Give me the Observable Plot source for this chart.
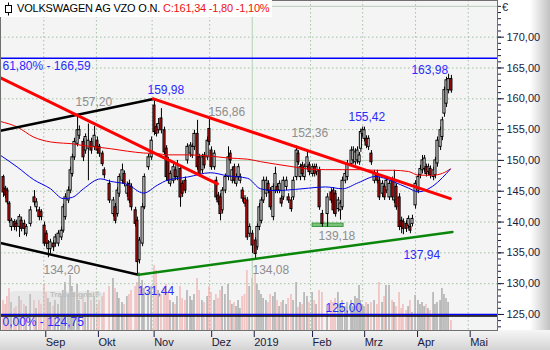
<!DOCTYPE html>
<html><head><meta charset="utf-8">
<script src="https://cdn.jsdelivr.net/npm/d3@7"></script>
<script src="https://cdn.jsdelivr.net/npm/@observablehq/plot@0.6"></script>
<style>
html,body{margin:0;padding:0;background:#fff;}
#chart{position:relative;width:550px;height:350px;overflow:hidden;font-family:"Liberation Sans",Arial,sans-serif;}
.layer{position:absolute;left:0;top:0;}
</style></head><body>
<div id="chart">
  <div style="position:absolute;left:0;top:0;width:497px;height:330px;background:#f4f4f4"></div>
  <div style="position:absolute;left:497px;top:0;width:53px;height:330px;background:linear-gradient(to right,#ffffff 0%,#ffffff 62%,#c2c2c2 100%)"></div>
  <div style="position:absolute;left:0;top:330px;width:550px;height:20px;background:linear-gradient(#f6f6f6,#d4d4d4)"></div>
  <div id="vol" class="layer"></div>
  <div id="wm" style="position:absolute;left:8px;top:291px;width:96px;height:27px;border-radius:7px;background:#d0d0d0;opacity:0.35"></div>
  <div style="position:absolute;left:50px;top:290px;font-size:8px;color:#bdbdbd;font-weight:bold">Tradesignal®</div>
  <div id="price" class="layer"></div>
  <div style="position:absolute;left:0;top:0;width:272px;height:17px;background:#fff"></div>
  <svg style="position:absolute;left:4px;top:2px" width="10" height="14"><line x1="4.5" y1="0.5" x2="4.5" y2="13.5" stroke="#000"/><rect x="1.5" y="3.5" width="6" height="7" fill="#fff" stroke="#000"/></svg>
  <div style="position:absolute;left:17px;top:2px;font-size:11px;letter-spacing:-0.2px;color:#000;white-space:nowrap">VOLKSWAGEN AG VZO O.N. <span style="color:#ee1111">C:161,34 -1,80 -1,10%</span></div>
  <div style="position:absolute;left:502px;top:1px;font-size:11px;color:#1a1a40">€</div>
</div>
<script>
// ---- candle data (trading-session position, OHLC in EUR) ----
const session = [0.4,1.2,1.9,2.7,3.5,4.7,5.4,6.6,7.4,8.5,
 9.3,10.9,12.4,13.2,14.3,15.1,16.3,17.1,17.8,18.6,
 19.8,20.5,21.7,22.9,23.6,24.4,25.6,26.4,27.1,27.9,
 29.1,29.8,31.4,32.2,33.3,34.5,35.7,36.8,37.6,38.8,
 39.5,41.5,43.0,43.8,44.6,45.3,46.5,47.3,48.4,49.2,
 50.0,51.6,52.3,53.1,54.3,55.0,56.6,57.8,58.9,59.7,
 60.5,61.6,62.8,63.6,64.3,65.1,66.3,67.1,67.8,69.0,
 69.8,70.9,71.7,72.9,73.6,74.4,75.6,76.4,77.5,78.3,
 79.5,80.2,81.0,82.2,82.9,83.7,84.5,85.3,86.4,87.6,
 88.4,89.1,89.9,90.7,91.5,92.2,93.1,94.0,94.9,95.8,
 96.9,98.1,98.8,99.6,100.4,101.2,102.3,103.1,103.9,105.0,
 105.8,106.6,107.4,108.2,108.9,110.1,110.9,112.0,112.8,114.0,
 114.7,115.5,116.3,117.1,118.2,119.0,120.2,121.0,121.7,122.9,
 124.0,126.0,127.5,128.3,129.1,130.2,131.0,131.8,132.9,133.7,
 135.3,136.0,136.8,137.6,138.4,138.9,139.6,140.3,141.1,141.9,
 143.0,144.2,145.3,146.1,147.3,148.1,148.8,150.0,151.2,151.9,
 152.7,153.9,154.7,155.4,156.6,157.4,158.1,158.9,160.1,161.2,
 162.0,162.8,163.6,164.3,165.1,165.9,167.1,167.8,168.6,169.8,
 170.5,171.3,172.1,172.9,174.0];
const open = [147.3,145.4,145.1,143.0,139.2,140.0,139.7,139.2,140.2,139.7,
 138.1,139.7,144.0,142.4,141.9,141.6,139.4,138.1,135.6,135.6,
 136.5,136.5,136.5,137.5,138.6,140.8,143.5,145.1,147.8,150.5,
 152.7,154.0,153.0,151.6,151.9,153.0,152.2,153.2,152.2,151.1,
 148.4,146.2,141.3,142.4,141.3,144.6,146.7,147.8,144.6,146.2,
 145.7,141.9,140.2,133.8,136.5,142.4,148.9,150.5,158.9,155.4,
 154.9,156.8,154.9,151.9,150.0,146.2,146.7,148.4,147.3,148.6,
 146.2,146.7,150.0,151.1,150.8,152.2,154.3,150.5,148.4,150.8,
 150.5,155.1,151.6,148.9,146.7,144.3,144.0,141.9,145.1,147.3,
 151.1,146.7,148.9,146.2,147.3,146.7,145.1,143.8,143.5,138.1,
 138.1,137.0,135.9,139.2,140.2,143.5,144.6,146.2,145.1,140.8,
 145.1,145.7,145.1,143.8,144.0,145.7,144.0,143.5,144.0,147.3,
 151.1,147.3,149.2,147.3,148.9,149.2,147.8,148.9,148.1,148.4,
 141.3,141.3,144.8,145.1,144.6,142.1,141.9,142.4,146.7,147.3,
 149.4,150.0,149.7,150.0,149.7,151.9,154.3,153.5,153.5,152.2,
 151.1,146.7,147.8,146.7,144.6,145.7,145.1,144.0,146.7,143.5,
 145.7,144.0,140.2,140.0,139.7,139.4,139.2,139.7,142.7,145.1,
 147.6,148.4,148.6,148.9,148.1,148.6,147.3,147.6,149.5,152.2,
 153.8,157.6,159.2,161.4,163.2];
const high = [147.6,145.8,145.5,143.3,140.6,140.4,140.3,141.2,140.8,140.3,
 139.6,142.5,145.1,143.8,142.4,142.0,140.0,138.6,137.0,137.2,
 137.0,138.0,138.6,139.2,142.9,144.6,145.7,148.9,151.0,153.6,
 157.2,155.6,153.5,154.3,155.9,153.6,155.5,153.8,152.6,151.5,
 148.8,146.8,144.0,143.0,145.6,147.8,149.4,148.3,146.5,146.8,
 146.2,142.4,140.8,137.5,143.0,147.8,151.0,153.8,159.98,155.9,
 156.8,158.4,155.4,152.4,150.5,148.3,149.4,148.9,150.0,149.1,
 146.7,147.3,152.7,152.9,152.7,154.9,156.5,151.0,151.0,151.3,
 153.8,156.86,152.2,151.6,147.3,144.8,144.6,145.6,147.8,152.2,
 151.6,148.9,149.4,147.8,149.4,147.8,145.6,144.3,144.0,139.7,
 138.6,137.5,139.7,143.0,144.0,147.3,147.3,146.7,145.6,146.2,
 148.9,146.2,146.7,144.3,147.3,147.3,144.6,144.0,147.3,152.36,
 151.6,149.4,149.7,149.4,151.6,149.7,149.4,149.4,149.4,148.9,
 141.9,144.6,145.4,145.6,145.1,144.0,143.5,147.3,148.4,150.0,
 152.2,152.2,151.9,152.2,151.3,155.1,155.42,155.4,154.0,154.0,
 151.6,148.4,148.4,147.3,146.7,146.2,147.3,146.7,147.3,148.4,
 146.2,144.6,140.8,140.5,140.2,141.0,139.7,141.1,146.7,147.8,
 149.2,150.8,150.8,149.4,149.4,149.1,148.9,150.5,153.8,155.4,
 157.0,161.9,163.5,163.98,163.8];
const low = [144.0,143.8,142.8,139.8,138.5,138.6,138.4,137.5,138.4,137.8,
 137.6,139.2,142.6,141.6,140.2,140.2,136.0,135.8,134.2,134.8,
 135.2,135.9,136.0,137.0,138.2,140.3,143.0,144.6,147.3,150.0,
 152.2,153.4,149.8,151.0,146.7,151.0,151.6,151.0,150.5,149.0,
 147.0,143.0,140.8,139.7,140.8,144.0,146.2,145.7,144.0,143.0,
 141.8,139.2,131.44,133.2,136.0,142.0,148.4,150.0,154.0,153.8,
 154.3,154.3,150.8,146.7,146.2,145.7,146.2,146.7,146.7,142.4,
 144.0,144.6,149.4,150.5,150.3,151.6,148.4,147.3,147.8,148.6,
 150.0,152.4,148.4,148.4,143.5,142.7,140.2,141.3,144.6,146.7,
 149.4,146.2,146.2,145.7,146.7,146.2,143.2,142.4,137.0,137.5,
 134.9,134.08,135.4,138.6,139.7,143.0,144.0,144.6,141.9,140.2,
 144.6,144.6,144.6,142.4,143.5,145.1,143.0,141.6,143.5,146.7,
 149.2,146.7,147.3,146.7,148.4,147.5,147.3,147.3,147.5,141.9,
 139.18,139.18,143.0,141.3,140.8,141.6,140.3,141.9,146.2,146.7,
 149.0,149.4,149.2,149.4,149.2,151.3,153.8,153.0,151.9,151.6,
 149.2,146.2,146.2,143.5,144.0,143.5,144.6,143.5,143.5,143.0,
 141.9,138.6,138.1,137.94,138.3,138.9,138.1,139.2,142.1,144.6,
 147.0,147.8,148.1,147.3,147.5,147.0,146.7,147.0,148.9,151.6,
 153.2,157.0,158.6,160.8,160.9];
const close = [144.8,144.3,143.2,140.2,140.2,139.2,139.2,140.8,138.9,138.9,
 139.2,141.9,143.2,143.2,140.8,140.8,136.5,136.5,136.5,136.7,
 135.9,137.5,138.1,138.6,142.4,144.0,145.1,148.4,150.5,153.0,
 154.9,154.9,150.5,153.8,153.2,151.6,154.0,151.6,151.1,149.4,
 147.6,143.5,143.5,140.2,145.1,147.3,148.4,146.2,145.9,143.5,
 142.4,139.7,133.5,137.0,142.4,147.3,150.5,153.2,154.6,154.3,
 155.9,154.9,151.3,147.3,146.7,147.8,148.9,147.3,149.4,144.0,
 144.6,145.1,152.2,152.4,152.2,154.3,148.9,147.8,150.5,149.2,
 153.2,153.0,148.9,151.1,144.0,143.2,141.3,145.1,147.3,150.5,
 150.0,148.4,146.7,147.3,148.9,147.3,143.8,143.0,137.5,139.2,
 136.2,134.8,139.2,142.4,143.5,146.7,146.7,145.1,142.4,145.7,
 147.8,145.1,146.2,143.0,146.7,146.7,143.5,142.1,146.7,151.6,
 149.7,148.9,147.8,148.9,150.5,148.1,148.9,147.8,148.9,142.4,
 139.7,144.0,143.5,141.9,141.3,143.5,143.0,146.7,147.8,149.4,
 151.6,151.6,151.3,151.6,150.8,154.6,154.9,154.9,152.4,153.5,
 149.7,147.8,146.7,144.0,146.2,144.0,146.7,146.2,144.0,146.7,
 142.4,139.2,139.2,138.9,138.9,140.5,138.6,140.5,146.2,147.3,
 148.6,150.0,150.3,147.8,148.9,147.6,148.4,150.0,153.2,154.9,
 156.5,161.4,163.0,163.2,161.34];
// volume in lots of 50k shares (estimated bar heights)
const volumeLots = [30,26,34,42,28,22,24,34,30,26,
 24,36,30,22,30,26,46,38,32,28,
 24,30,26,34,40,48,36,55,44,38,
 46,30,36,28,40,30,34,26,30,34,
 38,44,52,42,38,32,28,26,34,36,
 40,44,48,58,50,42,38,44,65,60,
 40,36,42,46,38,30,28,26,34,44,
 32,30,40,34,30,36,52,40,30,28,
 34,44,38,30,36,32,40,44,36,46,
 30,26,28,24,30,22,34,36,60,44,
 52,57,46,40,36,32,30,28,36,34,
 38,30,24,28,30,26,32,36,30,48,
 23,28,26,38,34,28,38,30,26,40,
 38,25,30,28,32,38,26,30,24,28,
 30,24,34,32,45,30,26,24,28,26,
 28,30,26,48,28,34,45,45,30,28,
 24,38,22,26,20,24,30,18,35,30,
 26,28,24,26,22,20,38,26,28,30,
 42,36,32,28,10];

// moving averages
const maSession = [-0.7,5.8,12.0,18.6,23.6,27.1,31.4,38.0,41.9,48.4,54.7,60.1,64.0,71.7,80.6,87.2,95.0,100.0,105.8,113.6,118.6,125.2,131.8,138.0,144.6,151.2,157.4,161.2,166.7,170.5,173.6];
const maRed = [156.3,155.4,153.8,153.0,152.8,152.7,152.4,152.1,151.9,151.5,151.2,151.1,150.9,150.9,150.7,150.4,150.2,149.8,149.4,148.9,148.6,148.5,148.5,148.5,148.4,148.4,148.2,147.6,147.6,147.9,148.6];
const maBlue = [150.8,148.9,146.9,145.4,143.8,144.0,145.4,147.0,146.6,146.1,144.7,146.0,146.8,147.3,148.0,147.5,147.1,145.4,145.1,145.3,145.5,145.7,145.4,146.4,147.4,146.6,145.5,144.9,145.8,147.2,148.6];

// trend lines [start, end]
const blackUpperT = [-0.78, 58.5], blackUpperP = [154.8, 159.98];
const blackLowerT = [-0.78, 52.7], blackLowerP = [136.6, 131.44];
const greenT = [52.7, 174.4], greenP = [131.44, 138.4];
const red1T = [-0.78, 83.3], red1P = [163.4, 146.2];
const red2T = [58.5, 173.6], red2P = [159.98, 143.8];
const supportT = [120.2, 132.2], supportP = [139.2, 139.75];
const fib618 = 166.59, fib0 = 124.75, level125 = 125.00;

// labels
const grayText = ["157,20","156,86","152,36","134,20","134,08","139,18"];
const grayT = [28.3, 79.8, 112.0, 15.9, 96.9, 122.5];
const grayP = [159.4, 157.8, 154.4, 132.15, 132.15, 137.7];
const blueText = ["159,98","155,42","163,98","131,44","137,94","125,00","61,80% - 166,59","0,00% - 124,75"];
const blueT = [56.2, 134.1, 158.5, 52.3, 155.4, 125.2, 0, 0];
const blueP = [161.35, 157.0, 164.6, 128.75, 134.7, 126.1, 165.25, 123.7];

// axes
const monthSession = [16.0, 36.4, 58.0, 80.3, 96.8, 119.4, 139.6, 160.1, 180.5];
const monthLabels = ["Sep","Okt","Nov","Dez","2019","Feb","Mrz","Apr","Mai"];
const priceTicks = d3.range(125, 171, 5);
const minorTicks = d3.range(123, 176, 1);
const gridDotted = [130,135,140,145,155,160,165,170];
const gridSolid = [150,175];

const idx = d3.range(session.length);
const up = idx.filter(i => close[i] >= open[i]);
const down = idx.filter(i => close[i] < open[i]);
const xs = {type: "linear", domain: [-0.775, 191.86]};
const common = {width: 550, height: 350, marginLeft: 0, marginRight: 53, marginTop: 0, marginBottom: 20,
  style: {background: "transparent", fontFamily: "'Liberation Sans', Arial, sans-serif", fontSize: "11px", color: "#1a1a40", overflow: "visible"}};
const fmt = d => d.toFixed(2).replace(".", ",");
const monthMap = new Map(monthSession.map((m, i) => [m, monthLabels[i]]));

const volPlot = Plot.plot({...common,
  x: {...xs, axis: null}, y: {domain: [0, 330], axis: null},
  marks: [
    Plot.rect(up, {x1: i => session[i] - 0.35, x2: i => session[i] + 0.35, y1: i => 0, y2: i => volumeLots[i], fill: "#b9b9b9"}),
    Plot.rect(down, {x1: i => session[i] - 0.35, x2: i => session[i] + 0.35, y1: i => 0, y2: i => volumeLots[i], fill: "#f2c4c4"})
  ]});
document.getElementById("vol").appendChild(volPlot);

const two = [0, 1];
const pricePlot = Plot.plot({...common,
  x: xs, y: {domain: [122.4, 175.95]},
  marks: [
    Plot.ruleY(gridDotted, {stroke: "#a6c0a6", strokeDasharray: "1.5,2.5"}),
    Plot.ruleY(gridSolid, {stroke: "#b8ceb8"}),
    Plot.ruleX(monthSession.filter((m, i) => monthLabels[i] !== "2019"), {stroke: "#a6c0a6", strokeDasharray: "1.5,2.5"}),
    Plot.ruleX(monthSession.filter((m, i) => monthLabels[i] === "2019"), {stroke: "#b4d2b4"}),
    Plot.ruleY([fib618], {stroke: "#0000ff", strokeWidth: 1.5}),
    Plot.ruleY([level125], {stroke: "#0000ff", strokeWidth: 1.5}),
    Plot.ruleY([fib0], {stroke: "#000", strokeWidth: 1.5}),
    Plot.rect([0], {x1: i => supportT[0], x2: i => supportT[1], y1: i => supportP[0], y2: i => supportP[1], fill: "#7cc47c", stroke: "#3c9a3c"}),
    Plot.ruleX(idx, {x: i => session[i], y1: i => low[i], y2: i => high[i], stroke: "#000"}),
    Plot.rect(up, {x1: i => session[i] - 0.4, x2: i => session[i] + 0.4, y1: i => open[i], y2: i => close[i], fill: "#fff", stroke: "#000"}),
    Plot.rect(down, {x1: i => session[i] - 0.4, x2: i => session[i] + 0.4, y1: i => open[i], y2: i => close[i], fill: "#e41010", stroke: "#000"}),
    Plot.line(idx.slice(0, maSession.length), {x: i => maSession[i], y: i => maRed[i], stroke: "#ee0000", strokeWidth: 1, curve: "monotone-x"}),
    Plot.line(idx.slice(0, maSession.length), {x: i => maSession[i], y: i => maBlue[i], stroke: "#0000e6", strokeWidth: 1, curve: "monotone-x"}),
    Plot.line(two, {x: i => blackUpperT[i], y: i => blackUpperP[i], stroke: "#000", strokeWidth: 2.5}),
    Plot.line(two, {x: i => blackLowerT[i], y: i => blackLowerP[i], stroke: "#000", strokeWidth: 2.5}),
    Plot.line(two, {x: i => greenT[i], y: i => greenP[i], stroke: "#0a870a", strokeWidth: 2.5}),
    Plot.line(two, {x: i => red1T[i], y: i => red1P[i], stroke: "#ff0000", strokeWidth: 3}),
    Plot.line(two, {x: i => red2T[i], y: i => red2P[i], stroke: "#ff0000", strokeWidth: 3}),
    Plot.text(grayText.map((_, i) => i), {x: i => grayT[i], y: i => grayP[i], text: i => grayText[i], fill: "#8e8e8e", fontSize: 12, textAnchor: "start", lineAnchor: "middle"}),
    Plot.text(blueText.map((_, i) => i), {x: i => blueT[i], y: i => blueP[i], text: i => blueText[i], fill: "#2b2bff", fontSize: 12, textAnchor: "start", lineAnchor: "middle"}),
    Plot.axisY({anchor: "right", ticks: minorTicks, tickSize: 3, tickFormat: () => "", label: null}),
    Plot.axisY({anchor: "right", ticks: priceTicks, tickSize: 6, tickPadding: 3, tickFormat: fmt, fontSize: 11, label: null}),
    Plot.axisX({anchor: "bottom", ticks: monthSession, tickFormat: d => monthMap.get(d), tickSize: 7, tickPadding: 1, textAnchor: "start", dx: 2, fontSize: 11, label: null}),
    Plot.frame({stroke: "#707070"})
  ]});
document.getElementById("price").appendChild(pricePlot);
</script>
</body></html>
